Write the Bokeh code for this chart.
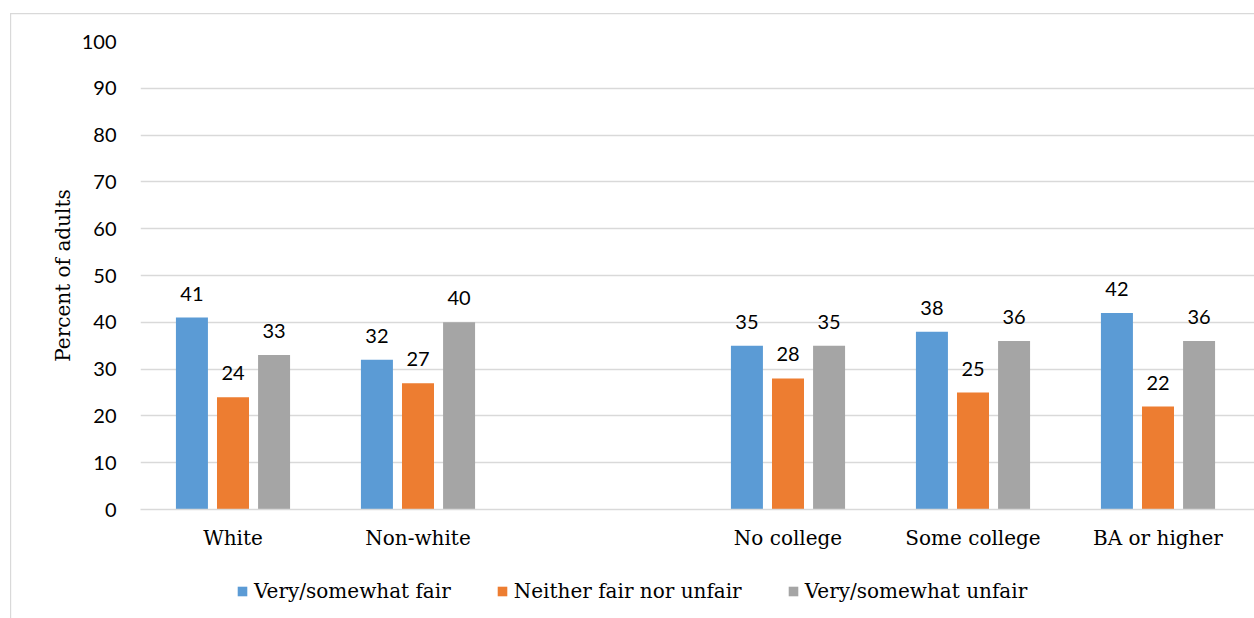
from bokeh.plotting import figure
from bokeh.models import (ColumnDataSource, FixedTicker, Legend, LegendItem,
                          LabelSet)
from bokeh.layouts import column
from bokeh.core.properties import value
from bokeh.embed import file_html
from bokeh.resources import INLINE

categories = ["White", "Non-white", "", "No college", "Some college", "BA or higher"]
series_names = ["Very/somewhat fair", "Neither fair nor unfair", "Very/somewhat unfair"]
fair = [41, 32, None, 35, 38, 42]
neither = [24, 27, None, 28, 25, 22]
unfair = [33, 40, None, 35, 36, 36]
y_ticks = [0, 10, 20, 30, 40, 50, 60, 70, 80, 90, 100]

colors = ["#5B9BD5", "#ED7D31", "#A5A5A5"]
offsets = [-0.222, 0.0, 0.222]
bar_w = 0.173

SERIF = "DejaVu Serif"
SANS = "Lato"

W, H = 1254, 618
LEG_H = 58
MAIN_H = H - LEG_H
FL, FT, FB = 140, 41, 509
p = figure(width=W, height=MAIN_H, output_backend="svg", toolbar_location=None,
           x_range=(0, (W - FL) / 185.0), y_range=(0, 100),
           min_border_left=FL, min_border_top=FT, min_border_bottom=MAIN_H - FB,
           min_border_right=0)
p.outline_line_color = None
p.background_fill_color = "white"
p.border_fill_alpha = 0

for vals, col, off, name in zip([fair, neither, unfair], colors, offsets, series_names):
    xs, tops, labels = [], [], []
    for i, v in enumerate(vals):
        if v is None:
            continue
        xs.append(i + 0.5 + off)
        tops.append(v)
        labels.append(str(v))
    src = ColumnDataSource(dict(x=xs, top=tops, label=labels))
    p.vbar(x="x", top="top", width=bar_w, source=src, fill_color=col,
           line_color=None)
    ls = LabelSet(x="x", y="top", text="label", source=src, text_align="center",
                  text_baseline="bottom", y_offset=17, text_font=value(SANS),
                  text_font_size=value("20px"), text_color="#000000")
    p.add_layout(ls)

# axes
p.xaxis.ticker = FixedTicker(ticks=[i + 0.5 for i, c in enumerate(categories) if c])
p.xaxis.major_label_overrides = {i + 0.5: c for i, c in enumerate(categories) if c}
p.xaxis.major_label_text_font = SERIF
p.xaxis.major_label_text_font_size = "20px"
p.xaxis.major_label_text_color = "#000000"
p.xaxis.major_label_standoff = 10
p.xaxis.major_tick_line_color = None
p.xaxis.minor_tick_line_color = None
p.xaxis.axis_line_color = "#d9d9d9"
p.xaxis.axis_line_width = 1.5

p.yaxis.ticker = FixedTicker(ticks=y_ticks)
p.yaxis.major_label_text_font = SANS
p.yaxis.major_label_text_font_size = "20px"
p.yaxis.major_label_text_color = "#000000"
p.yaxis.major_label_standoff = 18
p.yaxis.major_tick_line_color = None
p.yaxis.minor_tick_line_color = None
p.yaxis.axis_line_color = None
p.yaxis.axis_label = "Percent of adults"
p.yaxis.axis_label_text_font = SERIF
p.yaxis.axis_label_text_font_size = "20px"
p.yaxis.axis_label_text_font_style = "normal"
p.yaxis.axis_label_text_color = "#000000"
p.yaxis.axis_label_standoff = 4

p.xgrid.grid_line_color = None
p.ygrid.grid_line_color = "#d9d9d9"
p.ygrid.grid_line_width = 1.5

# legend strip below the chart
lg = figure(width=W, height=LEG_H, output_backend="svg", toolbar_location=None,
            x_range=(0, 1), y_range=(0, 1), x_axis_location=None,
            y_axis_location=None, min_border=0)
lg.outline_line_color = None
lg.grid.visible = False
lg.background_fill_alpha = 0
lg.border_fill_alpha = 0
items = []
for col, name in zip(colors, series_names):
    # zero-height swatch renderer: only its legend glyph is visible
    r = lg.vbar(x=[0.5], top=[0], bottom=[0], width=0.1, fill_color=col,
                line_color=None)
    items.append(LegendItem(label=name, renderers=[r]))
legend = Legend(items=items, orientation="horizontal", location=(96, 15),
                label_text_font=SERIF, label_text_font_size="20px",
                label_text_color="#000000", glyph_width=12, glyph_height=12,
                label_standoff=6, spacing=45, padding=4, margin=0,
                border_line_color=None, background_fill_alpha=0)
lg.add_layout(legend, "center")

layout = column(p, lg, spacing=0,
                styles={"box-shadow": "inset 10px 13px 0 0 #ffffff, inset 11.2px 14.2px 0 0 #d9d9d9"})

open("out.html", "w").write(file_html(layout, INLINE))
